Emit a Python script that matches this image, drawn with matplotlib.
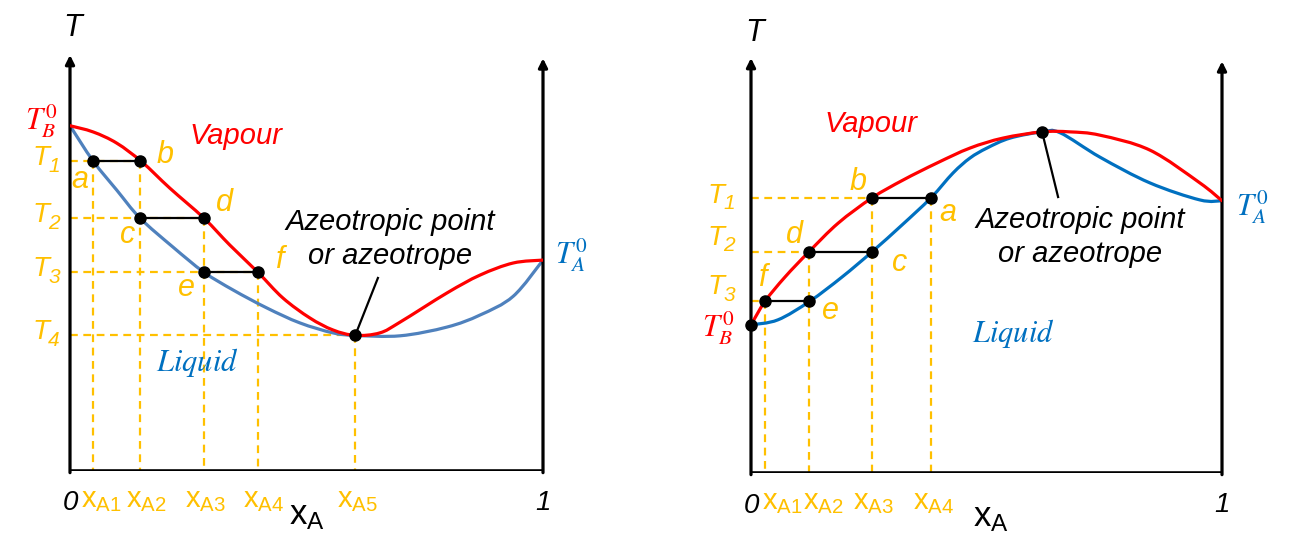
import matplotlib.pyplot as plt
from matplotlib.path import Path
from matplotlib.patches import PathPatch

plt.rcParams['font.family'] = ['Liberation Sans', 'DejaVu Sans']
plt.rcParams['mathtext.fontset'] = 'custom'
plt.rcParams['mathtext.rm'] = 'Liberation Sans'
plt.rcParams['mathtext.it'] = 'Liberation Sans:italic'

RED = '#FF0000'
ORANGE = '#FFC000'
BLUE_TXT = '#0070C0'

# ---- left diagram: minimum-boiling azeotrope (T on a 0..100 scale) ----
min_vap_x = [0, 0.049, 0.099, 0.152, 0.211, 0.283, 0.338, 0.397, 0.450, 0.507,
             0.556, 0.603, 0.655, 0.698, 0.797, 0.867, 0.937, 1]
min_vap_T = [83.0, 81.5, 78.8, 74.3, 68.0, 60.8, 54.3, 47.8, 41.6, 36.8,
             33.9, 32.6, 33.2, 35.8, 42.8, 47.1, 50.0, 50.7]
min_liq_x = [0, 0.049, 0.099, 0.148, 0.218, 0.283, 0.345, 0.416, 0.486, 0.556,
             0.603, 0.698, 0.797, 0.867, 0.937, 1]
min_liq_T = [83.0, 74.5, 67.5, 60.8, 53.8, 47.8, 43.5, 39.2, 35.6, 33.2,
             32.6, 32.5, 34.6, 37.5, 42.0, 50.7]
min_tie_T = [74.5, 60.8, 47.8]          # T1, T2, T3
min_tie_liq = [0.049, 0.148, 0.283]     # a, c, e
min_tie_vap = [0.148, 0.283, 0.397]     # b, d, f
min_azeo = (0.603, 32.6)                # T4 / xA5
min_tie_names = [('a', 'b'), ('c', 'd'), ('e', 'f')]

# ---- right diagram: maximum-boiling azeotrope ----
max_vap_x = [0, 0.030, 0.072, 0.123, 0.185, 0.257, 0.323, 0.395, 0.465, 0.535,
             0.618, 0.677, 0.741, 0.847, 0.953, 1]
max_vap_T = [35.7, 41.4, 47.2, 53.3, 60.2, 66.3, 70.6, 74.7, 78.3, 80.7,
             82.2, 82.2, 81.4, 77.8, 69.9, 65.6]
max_liq_x = [0, 0.057, 0.125, 0.193, 0.257, 0.321, 0.382, 0.429, 0.465, 0.501,
             0.550, 0.618, 0.656, 0.741, 0.847, 0.953, 1]
max_liq_T = [35.7, 36.9, 41.4, 47.2, 53.3, 59.8, 66.3, 72.3, 75.9, 78.3,
             80.7, 82.2, 82.0, 76.1, 69.9, 65.8, 65.6]
max_tie_T = [66.3, 53.3, 41.4]          # T1, T2, T3
max_tie_vap = [0.257, 0.123, 0.030]     # b, d, f
max_tie_liq = [0.382, 0.257, 0.123]     # a, c, e
max_azeo = (0.618, 82.2)
max_TB0 = 35.7
max_tie_names = [('a', 'b'), ('c', 'd'), ('e', 'f')]


def smooth_curve(ax, xs, ys, **kw):
    """Draw a smooth (Catmull-Rom style Bezier) line through the read points."""
    pts = list(zip(xs, ys))
    n = len(pts)
    verts, codes = [pts[0]], [Path.MOVETO]
    for i in range(n - 1):
        p0 = pts[i - 1] if i > 0 else pts[i]
        p1, p2 = pts[i], pts[i + 1]
        p3 = pts[i + 2] if i + 2 < n else pts[i + 1]
        c1 = (p1[0] + (p2[0] - p0[0]) / 6, p1[1] + (p2[1] - p0[1]) / 6)
        c2 = (p2[0] - (p3[0] - p1[0]) / 6, p2[1] - (p3[1] - p1[1]) / 6)
        verts += [c1, c2, p2]
        codes += [Path.CURVE4] * 3
    ax.add_patch(PathPatch(Path(verts, codes), fill=False, capstyle='round',
                           joinstyle='round', **kw))


def draw_frame(ax):
    """L-shaped axes with arrows at x=0 and x=1."""
    arrow = dict(arrowstyle='-|>', lw=2.3, color='black', mutation_scale=13,
                 shrinkA=0, shrinkB=0)
    ax.annotate('', xy=(0, 100), xytext=(0, -0.4), arrowprops=arrow)
    ax.annotate('', xy=(1, 99.2), xytext=(1, -0.4), arrowprops=arrow)
    ax.plot([0, 1], [0, 0], color='black', lw=2.6, solid_capstyle='projecting')
    ax.set_xlim(0, 1)
    ax.set_ylim(0, 100)
    ax.axis('off')


def orange_text(ax, s, x, y, dx=0, dy=0, size=21, ha='center'):
    ax.annotate(s, (x, y), xytext=(dx, dy), textcoords='offset pixels',
                ha=ha, va='center', color=ORANGE, fontsize=size,
                style='italic', annotation_clip=False)


def t_label(ax, n, T, dx, dy):
    """Italic T with an italic subscript number, left of the T axis."""
    orange_text(ax, 'T', 0, T, dx, dy, size=20)
    orange_text(ax, str(n), 0, T, dx + 13, dy - 8, size=15)


def dashed(ax, xs, ys):
    ax.plot(xs, ys, color=ORANGE, lw=1.6, dashes=(3.5, 2.5), zorder=1)


fig = plt.figure(figsize=(12.91, 5.52), dpi=100)
W, H = 1291, 552

# ================= left diagram =================
ax = fig.add_axes([70 / W, (H - 471) / H, 473 / W, 416 / H])
draw_frame(ax)

# guide lines
for T, xv in zip(min_tie_T, min_tie_vap):
    dashed(ax, [0, xv], [T, T])
    dashed(ax, [xv, xv], [T, 0])
dashed(ax, [min_tie_liq[0], min_tie_liq[0]], [min_tie_T[0], 0])
dashed(ax, [0, min_azeo[0]], [min_azeo[1], min_azeo[1]])
dashed(ax, [min_azeo[0], min_azeo[0]], [min_azeo[1], 0])

smooth_curve(ax, min_liq_x, min_liq_T, edgecolor='#4F81BD', lw=2.3, zorder=2)
smooth_curve(ax, min_vap_x, min_vap_T, edgecolor=RED, lw=2.3, zorder=3)

for T, xl, xv in zip(min_tie_T, min_tie_liq, min_tie_vap):
    ax.plot([xl, xv], [T, T], color='black', lw=1.6, zorder=4)
    ax.plot([xl, xv], [T, T], 'o', color='black', ms=8, zorder=5)
ax.plot(*min_azeo, 'o', color='black', ms=8, zorder=5)

# point letters
min_letter_off = {'a': (-13, -19), 'b': (25, 6), 'c': (-12, -17),
                  'd': (21, 15), 'e': (-17, -16), 'f': (22, 12)}
for T, xl, xv, (nl, nv) in zip(min_tie_T, min_tie_liq, min_tie_vap, min_tie_names):
    orange_text(ax, nl, xl, T, *min_letter_off[nl], size=22)
    orange_text(ax, nv, xv, T, *min_letter_off[nv], size=22)

# temperature labels
for i, T in enumerate(min_tie_T + [min_azeo[1]]):
    t_label(ax, i + 1, T, -29, 3)

# composition labels
min_xlab = [min_tie_liq[0]] + min_tie_vap + [min_azeo[0]]
min_xlab_off = [8, 6, 2, 6, 2]
for i, (xq, dx) in enumerate(zip(min_xlab, min_xlab_off)):
    orange_text(ax, r'$\mathrm{x}_{\mathrm{A}\mathit{%d}}$' % (i + 1), xq, 0,
                dx=dx, dy=-29, size=21)

ax.annotate('0', (0, 0), xytext=(0, -32), textcoords='offset pixels',
            ha='center', va='center', fontsize=20, style='italic')
ax.annotate('1', (1, 0), xytext=(0, -32), textcoords='offset pixels',
            ha='center', va='center', fontsize=20, style='italic')
ax.text(0.50, -10.8, r'$\mathrm{x_A}$', ha='center', va='center', fontsize=25)
ax.text(0.006, 106.5, 'T', ha='center', va='center', fontsize=22, style='italic')

ax.text(-0.027, 84.0, r'$T_B^0$', ha='right', va='center', fontsize=22,
        color=RED, math_fontfamily='stix')
ax.text(1.025, 51.9, r'$T_A^0$', ha='left', va='center', fontsize=22,
        color=BLUE_TXT, math_fontfamily='stix')
ax.text(0.351, 80.6, 'Vapour', ha='center', va='center', fontsize=21,
        style='italic', color=RED)
ax.text(0.269, 26.0, r'$Liquid$', ha='center', va='center', fontsize=22,
        color=BLUE_TXT, math_fontfamily='stix')
ax.text(0.677, 55.8, 'Azeotropic point\nor azeotrope', ha='center', va='center',
        fontsize=21, style='italic', linespacing=1.3)
ax.plot([0.651, min_azeo[0]], [46.4, min_azeo[1]], color='black', lw=1.6)

# ================= right diagram =================
ax = fig.add_axes([751 / W, (H - 473) / H, 471 / W, 415 / H])
draw_frame(ax)

for T, xv in zip(max_tie_T, max_tie_vap):
    dashed(ax, [0, xv], [T, T])
    dashed(ax, [xv, xv], [T, 0])
dashed(ax, [max_tie_liq[0], max_tie_liq[0]], [max_tie_T[0], 0])

smooth_curve(ax, max_liq_x, max_liq_T, edgecolor='#0070C0', lw=2.3, zorder=2)
smooth_curve(ax, max_vap_x, max_vap_T, edgecolor=RED, lw=2.3, zorder=3)

for T, xl, xv in zip(max_tie_T, max_tie_liq, max_tie_vap):
    ax.plot([xv, xl], [T, T], color='black', lw=1.6, zorder=4)
    ax.plot([xv, xl], [T, T], 'o', color='black', ms=8, zorder=5)
ax.plot(*max_azeo, 'o', color='black', ms=8, zorder=5)
ax.plot(0, max_TB0, 'o', color='black', ms=8, zorder=5, clip_on=False)

max_letter_off = {'a': (17, -15), 'b': (-14, 16), 'c': (28, -11),
                  'd': (-14, 17), 'e': (22, -10), 'f': (-2, 23)}
for T, xl, xv, (nl, nv) in zip(max_tie_T, max_tie_liq, max_tie_vap, max_tie_names):
    orange_text(ax, nl, xl, T, *max_letter_off[nl], size=22)
    orange_text(ax, nv, xv, T, *max_letter_off[nv], size=22)

max_Tlab_dy = [2, 14, 14]
for i, (T, dy) in enumerate(zip(max_tie_T, max_Tlab_dy)):
    t_label(ax, i + 1, T, -35, dy)

max_xlab = [max_tie_vap[2], max_tie_vap[1], max_tie_vap[0], max_tie_liq[0]]
max_xlab_off = [17, 14, 1, 3]
for i, (xq, dx) in enumerate(zip(max_xlab, max_xlab_off)):
    orange_text(ax, r'$\mathrm{x}_{\mathrm{A}\mathit{%d}}$' % (i + 1), xq, 0,
                dx=dx, dy=-29, size=21)

ax.annotate('0', (0, 0), xytext=(0, -33), textcoords='offset pixels',
            ha='center', va='center', fontsize=20, style='italic')
ax.annotate('1', (1, 0), xytext=(0, -32), textcoords='offset pixels',
            ha='center', va='center', fontsize=20, style='italic')
ax.text(0.51, -10.8, r'$\mathrm{x_A}$', ha='center', va='center', fontsize=25)
ax.text(0.007, 106, 'T', ha='center', va='center', fontsize=22, style='italic')

ax.text(-0.034, 34.9, r'$T_B^0$', ha='right', va='center', fontsize=22,
        color=RED, math_fontfamily='stix')
ax.text(1.03, 64.1, r'$T_A^0$', ha='left', va='center', fontsize=22,
        color=BLUE_TXT, math_fontfamily='stix')
ax.text(0.255, 84.1, 'Vapour', ha='center', va='center', fontsize=21,
        style='italic', color=RED)
ax.text(0.556, 33.7, r'$Liquid$', ha='center', va='center', fontsize=22,
        color=BLUE_TXT, math_fontfamily='stix')
ax.text(0.699, 56.9, 'Azeotropic point\nor azeotrope', ha='center', va='center',
        fontsize=21, style='italic', linespacing=1.3)
ax.plot([0.652, max_azeo[0]], [66.5, max_azeo[1]], color='black', lw=1.6)

fig.savefig('out.png', dpi=100)
